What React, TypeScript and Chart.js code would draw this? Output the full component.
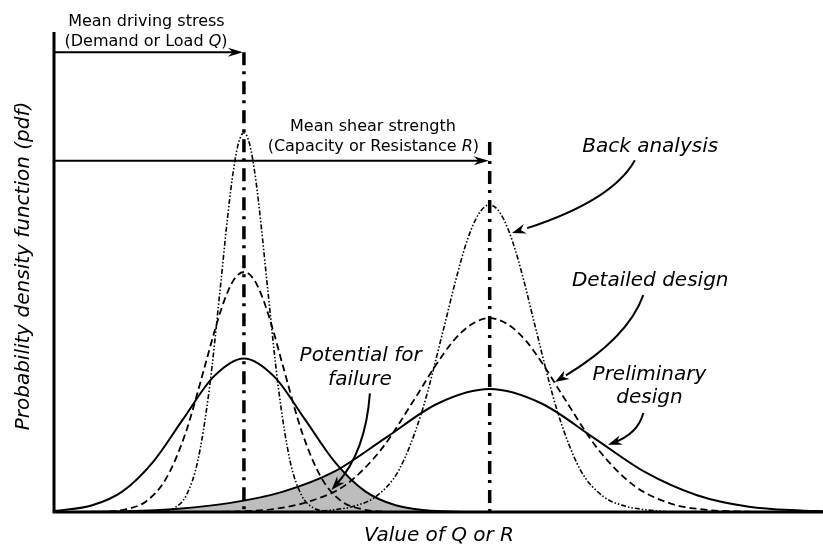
import { useEffect, useRef } from "react";
import { Chart, registerables } from "chart.js";

Chart.register(...registerables);

// ---- Data (x: value of Q or R, y: probability density, arbitrary units) ----
const meanQ = 24.6;
const meanR = 56.6;
const meanQTop = 95.8;
const meanRTop = 77.1;
const loadArrowY = 95.8;
const strengthArrowY = 73.2;

// Demand / load Q
const qBackX = [12.6, 14.1, 15.6, 17.1, 18.6, 20.1, 21.6, 22.35, 23.1, 23.85, 24.6, 25.35, 26.1, 26.85, 27.6, 29.1, 30.6, 32.1, 33.6, 35.1, 36.6];
const qBackY = [0, 0.2, 0.9, 3.5, 10.7, 25.7, 47.9, 59.6, 69.7, 76.6, 79, 76.6, 69.7, 59.6, 47.9, 25.7, 10.7, 3.5, 0.9, 0.2, 0];

const qDetailX = [4.2, 6.75, 9.3, 11.85, 14.4, 16.95, 19.5, 20.78, 22.05, 23.33, 24.6, 25.88, 27.15, 28.43, 29.7, 32.25, 34.8, 37.35, 39.9, 42.45, 45.0];
const qDetailY = [0, 0.1, 0.6, 2.2, 6.8, 16.2, 30.3, 37.7, 44.1, 48.5, 50, 48.5, 44.1, 37.7, 30.3, 16.2, 6.8, 2.2, 0.6, 0.1, 0];

const qPrelimX = [0, 0.9, 4.85, 8.8, 12.75, 16.7, 20.65, 24.6, 28.55, 32.5, 36.45, 40.4, 44.35, 48.3, 52.25, 56.2];
const qPrelimY = [0.25, 0.36, 1.4, 4.3, 10.4, 19.4, 28.2, 32, 28.2, 19.4, 10.4, 4.3, 1.4, 0.36, 0.07, 0];

// Capacity / resistance R
const rBackX = [33.0, 35.95, 38.9, 41.85, 44.8, 47.75, 50.7, 52.18, 53.65, 55.13, 56.6, 58.08, 59.55, 61.03, 62.5, 65.45, 68.4, 71.35, 74.3, 77.25, 80.2];
const rBackY = [0, 0.4, 1.2, 3.3, 8.8, 20.8, 38.8, 48.3, 56.5, 62.0, 64, 62.0, 56.5, 48.3, 38.8, 20.8, 8.8, 3.3, 1.2, 0.4, 0];

const rDetailX = [19.0, 23.7, 28.4, 33.1, 37.8, 42.5, 47.2, 49.55, 51.9, 54.25, 56.6, 58.95, 61.3, 63.65, 66.0, 70.7, 75.4, 80.1, 84.8, 89.5, 94.2];
const rDetailY = [0, 0.1, 0.6, 2.2, 5.6, 13.1, 24.5, 30.5, 35.7, 39.1, 40.4, 39.1, 35.7, 30.5, 24.5, 13.1, 5.5, 1.8, 0.45, 0.1, 0];

const rPrelimX = [2.6, 9.35, 16.1, 22.85, 29.6, 36.35, 43.1, 49.85, 56.6, 63.35, 70.1, 76.85, 83.6, 90.35, 97.1, 100];
const rPrelimY = [0, 0.15, 0.7, 1.9, 4.2, 8.4, 15.5, 22.6, 25.6, 22.6, 15.5, 8.3, 3.5, 1.1, 0.3, 0.15];

const FONT = '"DejaVu Sans", "Liberation Sans", sans-serif';

const pts = (xs: number[], ys: number[]) => xs.map((x, i) => ({ x, y: ys[i] }));

const SOLID: number[] = [];
const DASHED = [7, 4];
const DASH_DOT_DOT = [5, 2, 1.5, 2, 1.5, 2];
const MEAN_DASH = [13, 6, 3, 7];

function curve(xs: number[], ys: number[], dash: number[], width: number) {
  return {
    data: pts(xs, ys),
    borderColor: "#000",
    borderWidth: width,
    borderDash: dash,
    pointRadius: 0,
    fill: false,
    cubicInterpolationMode: "monotone" as const,
  };
}

function meanLine(x: number, top: number) {
  return {
    data: [{ x, y: top }, { x, y: 0 }],
    borderColor: "#000",
    borderWidth: 3.5,
    borderDash: MEAN_DASH,
    borderCapStyle: "butt" as const,
    pointRadius: 0,
    fill: false,
    tension: 0,
  };
}

function arrowHead(ctx: CanvasRenderingContext2D, tx: number, ty: number, fx: number, fy: number, len = 14, half = 5) {
  const dx = tx - fx;
  const dy = ty - fy;
  const m = Math.hypot(dx, dy) || 1;
  const ux = dx / m;
  const uy = dy / m;
  const nx = -uy;
  const ny = ux;
  ctx.beginPath();
  ctx.moveTo(tx, ty);
  ctx.lineTo(tx - ux * len + nx * half, ty - uy * len + ny * half);
  ctx.lineTo(tx - ux * len * 0.68, ty - uy * len * 0.68);
  ctx.lineTo(tx - ux * len - nx * half, ty - uy * len - ny * half);
  ctx.closePath();
  ctx.fill();
}

function mixedText(ctx: CanvasRenderingContext2D, parts: [string, boolean][], cx: number, cy: number, size: number) {
  const fonts = parts.map(([, it]) => `${it ? "italic " : ""}${size}px ${FONT}`);
  const widths = parts.map(([t], i) => {
    ctx.font = fonts[i];
    return ctx.measureText(t).width;
  });
  let x = cx - widths.reduce((a, b) => a + b, 0) / 2;
  ctx.textAlign = "left";
  ctx.textBaseline = "middle";
  parts.forEach(([t], i) => {
    ctx.font = fonts[i];
    ctx.fillText(t, x, cy);
    x += widths[i];
  });
}

// Grey area shared by the two preliminary-design curves (potential for failure)
const overlapFill = {
  id: "overlapFill",
  beforeDatasetsDraw(chart: any) {
    const { ctx, chartArea } = chart;
    const q = chart.getDatasetMeta(2).dataset;
    const r = chart.getDatasetMeta(5).dataset;
    if (!q || !r) return;
    q.updateControlPoints(chartArea, "x");
    r.updateControlPoints(chartArea, "x");
    const base = chart.scales.y.getPixelForValue(0);
    const qp = q.points;
    const rp = r.points;
    ctx.save();
    ctx.beginPath();
    q.path(ctx);
    ctx.lineTo(qp[qp.length - 1].x, base);
    ctx.lineTo(qp[0].x, base);
    ctx.closePath();
    ctx.clip();
    ctx.beginPath();
    r.path(ctx);
    ctx.lineTo(rp[rp.length - 1].x, base);
    ctx.lineTo(rp[0].x, base);
    ctx.closePath();
    ctx.fillStyle = "#bdbdbd";
    ctx.fill();
    ctx.restore();
  },
};

const annotations = {
  id: "annotations",
  afterDatasetsDraw(chart: any) {
    const { ctx, chartArea } = chart;
    ctx.save();
    ctx.strokeStyle = "#000";
    ctx.lineWidth = 3;
    ctx.lineCap = "butt";
    ctx.beginPath();
    ctx.moveTo(chartArea.left - 1, chartArea.top);
    ctx.lineTo(chartArea.left - 1, chartArea.bottom + 1.5);
    ctx.moveTo(chartArea.left - 2.5, chartArea.bottom);
    ctx.lineTo(chartArea.right, chartArea.bottom);
    ctx.stroke();
    ctx.restore();
  },
  afterDraw(chart: any) {
    const { ctx, chartArea } = chart;
    const X = (v: number) => chart.scales.x.getPixelForValue(v);
    const Y = (v: number) => chart.scales.y.getPixelForValue(v);
    ctx.save();
    ctx.fillStyle = "#000";
    ctx.strokeStyle = "#000";

    // horizontal arrows to the two means
    ctx.lineWidth = 2;
    const arrows: [number, number][] = [
      [meanQ, loadArrowY],
      [meanR, strengthArrowY],
    ];
    arrows.forEach(([mx, my]) => {
      const tx = X(mx) - 1;
      const ty = Y(my);
      ctx.beginPath();
      ctx.moveTo(chartArea.left, ty);
      ctx.lineTo(tx - 8, ty);
      ctx.stroke();
      arrowHead(ctx, tx, ty, tx - 20, ty, 15, 4.5);
    });

    // curved leader arrows
    const leaders: number[][] = [
      [75.5, 73.3, 72.66, 65.0, 59.5, 58.1],
      [76.6, 45.2, 74.6, 36.3, 65.1, 27.1],
      [76.6, 20.6, 75.9, 16.2, 72.0, 14.0],
      [41.0, 24.7, 40.45, 12.5, 36.0, 4.6],
    ];
    leaders.forEach(([sx, sy, cx, cy, ex, ey]) => {
      const p0 = [X(sx), Y(sy)];
      const c = [X(cx), Y(cy)];
      const p1 = [X(ex), Y(ey)];
      ctx.lineWidth = 2;
      ctx.beginPath();
      ctx.moveTo(p0[0], p0[1]);
      ctx.quadraticCurveTo(c[0], c[1], p1[0] - (p1[0] - c[0]) * 0.15, p1[1] - (p1[1] - c[1]) * 0.15);
      ctx.stroke();
      arrowHead(ctx, p1[0], p1[1], c[0], c[1], 14, 5);
    });

    // upper explanatory labels
    mixedText(ctx, [["Mean driving stress", false]], X(11.9), Y(102.2), 16);
    mixedText(ctx, [["(Demand or Load ", false], ["Q", true], [")", false]], X(11.85), Y(98.0), 16);
    mixedText(ctx, [["Mean shear strength", false]], X(41.4), Y(80.3), 16);
    mixedText(ctx, [["(Capacity or Resistance ", false], ["R", true], [")", false]], X(41.45), Y(76.1), 16);

    // curve labels
    const labels: [string, number, number][] = [
      ["Back analysis", 77.5, 76.0],
      ["Detailed design", 77.5, 48.1],
      ["Preliminary", 77.4, 28.5],
      ["design", 77.4, 23.7],
      ["Potential for", 39.8, 32.5],
      ["failure", 39.7, 27.5],
    ];
    labels.forEach(([t, lx, ly]) => mixedText(ctx, [[t, true]], X(lx), Y(ly), 20));

    // axis titles
    mixedText(ctx, [["Value of Q or R", true]], X(50), Y(-5.0), 20);
    ctx.translate(X(-4.1), Y(51.25));
    ctx.rotate(-Math.PI / 2);
    mixedText(ctx, [["Probability density function (pdf)", true]], 0, 0, 20);
    ctx.restore();
  },
};

export default function App() {
  const ref = useRef<HTMLCanvasElement>(null);

  useEffect(() => {
    if (!ref.current) return;
    const chart = new Chart(ref.current, {
      type: "line",
      data: {
        datasets: [
          curve(qBackX, qBackY, DASH_DOT_DOT, 1.6),
          curve(qDetailX, qDetailY, DASHED, 1.8),
          curve(qPrelimX, qPrelimY, SOLID, 2),
          curve(rBackX, rBackY, DASH_DOT_DOT, 1.6),
          curve(rDetailX, rDetailY, DASHED, 1.8),
          curve(rPrelimX, rPrelimY, SOLID, 2),
          meanLine(meanQ, meanQTop),
          meanLine(meanR, meanRTop),
        ] as any,
      },
      options: {
        animation: false,
        responsive: false,
        devicePixelRatio: 1,
        events: [],
        layout: { padding: { left: 55, top: 32, right: 0, bottom: 35 } },
        scales: {
          x: { type: "linear", min: 0, max: 100, display: false },
          y: { type: "linear", min: 0, max: 100, display: false },
        },
        plugins: {
          legend: { display: false },
          tooltip: { enabled: false },
        },
      },
      plugins: [overlapFill, annotations],
    });
    return () => chart.destroy();
  }, []);

  return (
    <div style={{ position: "absolute", left: 0, top: 0, width: 823, height: 547, background: "#fff" }}>
      <canvas ref={ref} width={823} height={547} style={{ display: "block" }} />
    </div>
  );
}
